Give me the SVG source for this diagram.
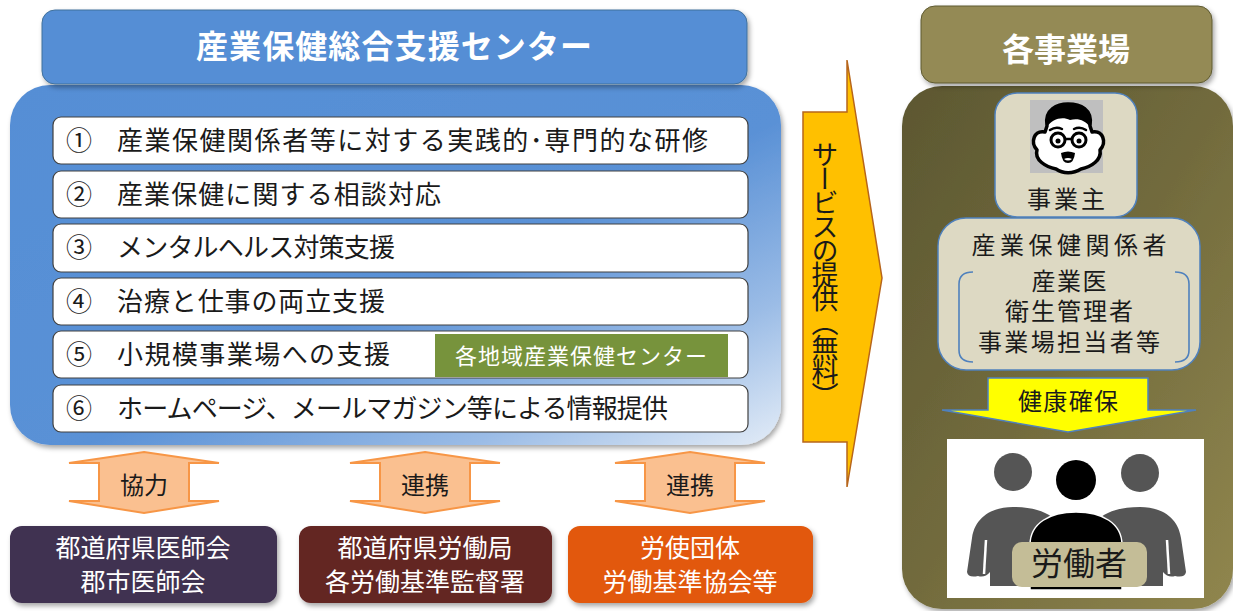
<svg xmlns="http://www.w3.org/2000/svg" width="1233" height="611" viewBox="0 0 1233 611">
  <defs>
    <style>
      text { font-family: "Noto Sans CJK JP", "Noto Sans", sans-serif; }
      .title { font-size: 32px; font-weight: bold; fill: #ffffff; text-anchor: middle; }
      .item-box { fill: #ffffff; stroke: #404040; stroke-width: 1.2; }
      .item-text { font-size: 26px; fill: #1a1a1a; }
      .num { font-size: 26px; fill: #1a1a1a; }
      .cream { fill: #DDD9C3; stroke: #4F81BD; stroke-width: 1.5; }
      .dark { font-size: 24px; fill: #1a1a1a; text-anchor: middle; }
      .org-text { font-size: 25px; fill: #ffffff; text-anchor: middle; }
      .link-text { font-size: 24px; fill: #1a1a1a; text-anchor: middle; }
      .bracket { fill: none; stroke: #4F81BD; stroke-width: 1.6; }
    </style>
    <linearGradient id="blueFade" x1="0" y1="0" x2="1" y2="1">
      <stop offset="0" stop-color="#558ED5"/>
      <stop offset="0.55" stop-color="#5A91D6"/>
      <stop offset="0.8" stop-color="#9BBCE6"/>
      <stop offset="1" stop-color="#E3ECF7"/>
    </linearGradient>
    <linearGradient id="oliveFade" x1="0" y1="0" x2="1" y2="1">
      <stop offset="0" stop-color="#5C5731"/>
      <stop offset="0.5" stop-color="#726B3D"/>
      <stop offset="1" stop-color="#90864E"/>
    </linearGradient>
    <filter id="shadow" x="-10%" y="-10%" width="120%" height="130%">
      <feDropShadow dx="2" dy="3" stdDeviation="2.5" flood-color="#000000" flood-opacity="0.35"/>
    </filter>
    <polygon id="twoWay" points="0,-33 75,-22 45,-22 45,16 75,16 0,28 -75,16 -45,16 -45,-22 -75,-22" fill="#FAC090" stroke="#F79646" stroke-width="2"/>
  </defs>

  <!-- Support centre -->
  <g id="center-body">
    <rect x="10" y="85" width="771" height="360" rx="40" fill="url(#blueFade)" filter="url(#shadow)"/>
  </g>
  <g id="center-title">
    <rect x="42" y="10" width="705" height="74" rx="13" fill="#558ED5" stroke="#41719C" stroke-width="1" filter="url(#shadow)"/>
    <text class="title" x="394" y="58" textLength="396" lengthAdjust="spacing">産業保健総合支援センター</text>
  </g>

  <g id="item-1">
    <rect class="item-box" x="53" y="117" width="695" height="47" rx="8"/>
    <text class="num" x="66" y="150">①</text>
    <text class="item-text" x="117" y="150" textLength="591" lengthAdjust="spacing">産業保健関係者等に対する実践的･専門的な研修</text>
  </g>
  <g id="item-2">
    <rect class="item-box" x="53" y="171" width="695" height="47" rx="8"/>
    <text class="num" x="66" y="204">②</text>
    <text class="item-text" x="117" y="204" textLength="324" lengthAdjust="spacing">産業保健に関する相談対応</text>
  </g>
  <g id="item-3">
    <rect class="item-box" x="53" y="224" width="695" height="48" rx="8"/>
    <text class="num" x="66" y="257">③</text>
    <text class="item-text" x="117" y="257" textLength="278" lengthAdjust="spacing">メンタルヘルス対策支援</text>
  </g>
  <g id="item-4">
    <rect class="item-box" x="53" y="278" width="695" height="47" rx="8"/>
    <text class="num" x="66" y="311">④</text>
    <text class="item-text" x="117" y="311" textLength="268" lengthAdjust="spacing">治療と仕事の両立支援</text>
  </g>
  <g id="item-5">
    <rect class="item-box" x="53" y="331" width="695" height="47" rx="8"/>
    <text class="num" x="66" y="364">⑤</text>
    <text class="item-text" x="117" y="364" textLength="273" lengthAdjust="spacing">小規模事業場への支援</text>
    <rect x="435" y="334" width="293" height="43" fill="#77933C"/>
    <text x="581" y="364" font-size="22" fill="#ffffff" text-anchor="middle" textLength="252" lengthAdjust="spacing">各地域産業保健センター</text>
  </g>
  <g id="item-6">
    <rect class="item-box" x="53" y="385" width="695" height="47" rx="8"/>
    <text class="num" x="66" y="418">⑥</text>
    <text class="item-text" x="117" y="418" textLength="551" lengthAdjust="spacing">ホームページ、メールマガジン等による情報提供</text>
  </g>

  <!-- Service arrow -->
  <g id="service-arrow">
    <polygon points="803,112 847,112 847,60 882,278 847,487 847,442 803,442" fill="#FFC000" stroke="#B7651B" stroke-width="1.5"/>
    <text x="825" y="141" font-size="27" fill="#1a1a1a" writing-mode="tb" textLength="268" lengthAdjust="spacing">サービスの提供（無料）</text>
  </g>

  <!-- Workplace -->
  <g id="workplace-body">
    <rect x="902" y="86" width="331" height="523" rx="40" fill="url(#oliveFade)" filter="url(#shadow)"/>
  </g>
  <g id="workplace-title">
    <rect x="921" y="6" width="291" height="77" rx="14" fill="#948A54" stroke="#5E5A32" stroke-width="1" filter="url(#shadow)"/>
    <text class="title" x="1066" y="61">各事業場</text>
  </g>

  <g id="employer">
    <rect class="cream" x="995" y="93" width="142" height="124" rx="22"/>
    <rect x="1030" y="100" width="73" height="73" fill="#BFBFBF"/>
    <!-- face -->
    <path d="M1047,126 C1044,109 1058,104 1068,104 C1080,104 1093,109 1090,126 L1092,132 C1103,130 1107,142 1100,150 C1102,160 1091,167 1081,169 C1073,174 1063,174 1056,169 C1046,167 1034,160 1037,150 C1030,142 1034,130 1045,132 Z" fill="#ffffff" stroke="#000000" stroke-width="3.5" stroke-linejoin="round"/>
    <path d="M1047,127 C1044,109 1058,104 1068,104 C1080,104 1093,109 1090,127 C1085,120 1078,118 1070,120 C1062,116 1052,119 1047,127 Z" fill="#000000"/>
    <path d="M1050,130 Q1056,126 1062,129 M1074,129 Q1080,126 1086,130" fill="none" stroke="#000" stroke-width="2.5" stroke-linecap="round"/>
    <circle cx="1058" cy="140" r="7" fill="#ffffff" stroke="#000" stroke-width="3"/>
    <circle cx="1079" cy="140" r="7" fill="#ffffff" stroke="#000" stroke-width="3"/>
    <line x1="1065" y1="139" x2="1072" y2="139" stroke="#000" stroke-width="2.5"/>
    <circle cx="1058" cy="141" r="2.5" fill="#000"/>
    <circle cx="1079" cy="141" r="2.5" fill="#000"/>
    <path d="M1061,153 Q1068,150 1075,153 Q1074,163 1068,163 Q1062,163 1061,153 Z" fill="#000"/>
    <path d="M1064,159 Q1068,157 1072,159 Q1068,162 1064,159 Z" fill="#ffffff"/>
    <text class="dark" x="1066" y="208" textLength="78" lengthAdjust="spacing">事業主</text>
  </g>

  <g id="health-staff">
    <rect class="cream" x="938" y="218" width="262" height="152" rx="28"/>
    <path class="bracket" d="M973,272 Q959,272 959,284 L959,350 Q959,362 973,362"/>
    <path class="bracket" d="M1175,272 Q1189,272 1189,284 L1189,350 Q1189,362 1175,362"/>
    <text class="dark" x="1069" y="254" textLength="195" lengthAdjust="spacing">産業保健関係者</text>
    <text class="dark" x="1069" y="290" textLength="75" lengthAdjust="spacing">産業医</text>
    <text class="dark" x="1069" y="320" textLength="128" lengthAdjust="spacing">衛生管理者</text>
    <text class="dark" x="1069" y="351" textLength="182" lengthAdjust="spacing">事業場担当者等</text>
  </g>

  <g id="health-arrow">
    <polygon points="988,378 1148,378 1148,410 1196,410 1068,432 942,410 988,410" fill="#FFFF00" stroke="#4F81BD" stroke-width="1.5"/>
    <text class="dark" x="1068" y="410" textLength="100" lengthAdjust="spacing">健康確保</text>
  </g>

  <g id="workers">
    <rect x="947" y="439" width="257" height="159" fill="#ffffff"/>
    <circle cx="1013" cy="472" r="19" fill="#555555"/>
    <circle cx="1140" cy="473" r="19" fill="#555555"/>
    <!-- side figures -->
    <path d="M967,572 L972,538 C975,517 992,507 1013,507 C1034,507 1048,512 1058,522 L1058,586 L990,586 L990,572 Q985,578 978,576 Q968,578 967,572 Z" fill="#555555"/>
    <line x1="986" y1="540" x2="984" y2="574" stroke="#ffffff" stroke-width="2.5"/>
    <g transform="translate(2153,0) scale(-1,1)">
      <path d="M967,572 L972,538 C975,517 992,507 1013,507 C1034,507 1048,512 1058,522 L1058,586 L990,586 L990,572 Q985,578 978,576 Q968,578 967,572 Z" fill="#555555"/>
      <line x1="986" y1="540" x2="984" y2="574" stroke="#ffffff" stroke-width="2.5"/>
    </g>
    <circle cx="1076" cy="480" r="20" fill="#000000"/>
    <path d="M1030,590 L1030,545 C1030,523 1050,512 1076,512 C1102,512 1122,523 1122,545 L1122,590 Z" fill="#000000" stroke="#ffffff" stroke-width="1.5"/>
    <rect x="1012" y="542" width="135" height="45" rx="10" fill="#C4BD97"/>
    <text x="1079" y="575" font-size="32" fill="#1a1a1a" text-anchor="middle">労働者</text>
  </g>

  <!-- Cooperation links -->
  <g id="connectors">
    <use href="#twoWay" transform="translate(144,485)"/>
    <text class="link-text" x="144" y="494">協力</text>
    <use href="#twoWay" transform="translate(425,485)"/>
    <text class="link-text" x="425" y="494">連携</text>
    <use href="#twoWay" transform="translate(690,485)"/>
    <text class="link-text" x="690" y="494">連携</text>
  </g>

  <g id="medical-association">
    <rect x="10" y="526" width="267" height="77" rx="12" fill="#403151" filter="url(#shadow)"/>
    <text class="org-text" x="143" y="557">都道府県医師会</text>
    <text class="org-text" x="143" y="591">郡市医師会</text>
  </g>
  <g id="labour-bureau">
    <rect x="299" y="526" width="253" height="77" rx="12" fill="#632523" filter="url(#shadow)"/>
    <text class="org-text" x="425" y="557">都道府県労働局</text>
    <text class="org-text" x="425" y="591">各労働基準監督署</text>
  </g>
  <g id="labour-management">
    <rect x="568" y="526" width="245" height="77" rx="12" fill="#E2580A" filter="url(#shadow)"/>
    <text class="org-text" x="690" y="557">労使団体</text>
    <text class="org-text" x="690" y="591">労働基準協会等</text>
  </g>
</svg>
